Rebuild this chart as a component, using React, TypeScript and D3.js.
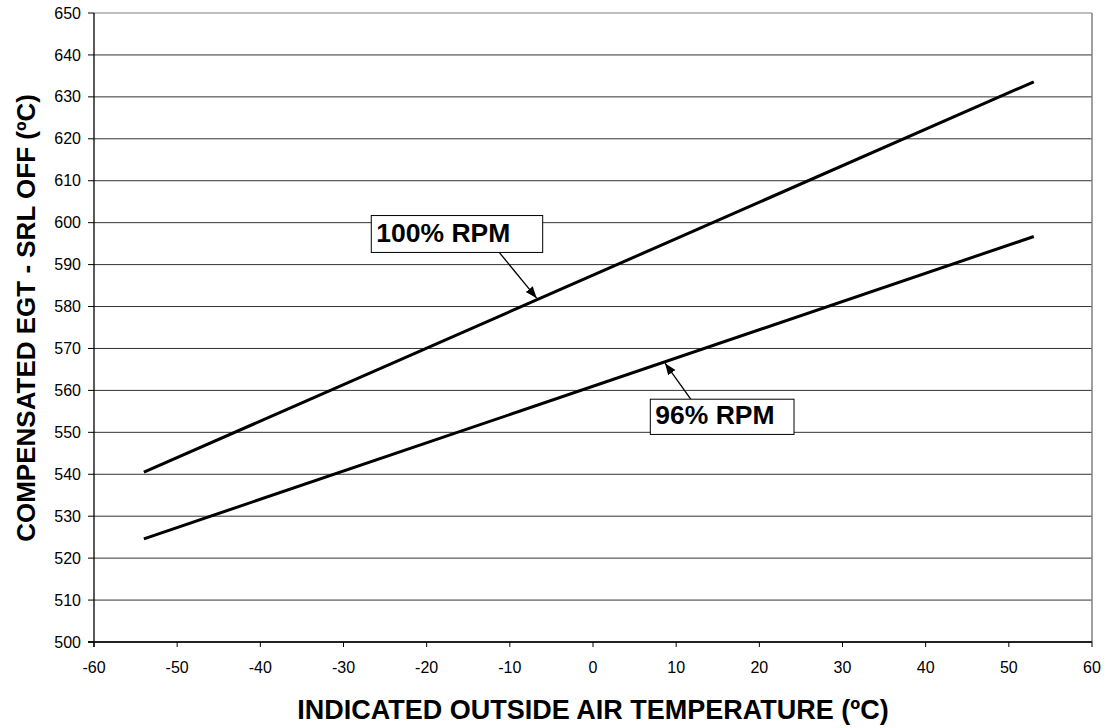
import React from "react";
import * as d3 from "d3";

const temps = [-54, 53];
const rpm100 = [540.5, 633.6];
const rpm96 = [524.6, 596.7];
const xTicks = d3.range(-60, 61, 10);
const yTicks = d3.range(500, 651, 10);

const labels = [
  { text: "100% RPM", box: [-26.66, 601.7, -6.05, 592.9], from: [-11.27, 592.9], to: [-6.77, 582.0] },
  { text: "96% RPM", box: [6.89, 557.9, 24.17, 549.5], from: [11.75, 557.9], to: [8.66, 566.5] },
];

const width = 1105;
const height = 728;
const margin = { top: 13, right: 13, bottom: 86, left: 94 };
const font = "'Liberation Sans', Arial, sans-serif";

export default function App() {
  const x = d3.scaleLinear().domain([-60, 60]).range([margin.left, width - margin.right]);
  const y = d3.scaleLinear().domain([500, 650]).range([height - margin.bottom, margin.top]);
  const line = d3
    .line<[number, number]>()
    .x((d) => x(d[0]))
    .y((d) => y(d[1]));

  const series = [rpm100, rpm96].map((vals) => temps.map((t, i) => [t, vals[i]] as [number, number]));

  const x0 = x(-60), x1 = x(60), y0 = y(500), y1 = y(650);

  return (
    <svg
      width={width}
      height={height}
      style={{ position: "absolute", left: 0, top: 0, background: "#fff" }}
      fontFamily={font}
    >
      <defs>
        <marker id="arr" viewBox="0 0 10 10" refX="10" refY="5" markerWidth="9" markerHeight="9" orient="auto">
          <path d="M0,1.2 L10,5 L0,8.8 z" fill="#000" />
        </marker>
      </defs>

      {/* grid */}
      {yTicks.map((t) => (
        <line key={"g" + t} x1={x0} x2={x1} y1={y(t)} y2={y(t)} stroke={t === 650 ? "#808080" : "#333"} strokeWidth={1} />
      ))}
      <line x1={x1} x2={x1} y1={y1} y2={y0} stroke="#808080" strokeWidth={1.5} />

      {/* axes */}
      <line x1={x0} x2={x0} y1={y1} y2={y0 + 5} stroke="#000" strokeWidth={1.3} />
      <line x1={x0 - 6} x2={x1} y1={y0} y2={y0} stroke="#222" strokeWidth={2} />
      {yTicks.map((t) => (
        <g key={"y" + t}>
          <line x1={x0 - 6} x2={x0} y1={y(t)} y2={y(t)} stroke="#000" />
          <text x={x0 - 13} y={y(t)} dy="0.35em" textAnchor="end" fontSize={16} fill="#000">
            {t}
          </text>
        </g>
      ))}
      {xTicks.map((t) => (
        <g key={"x" + t}>
          <line x1={x(t)} x2={x(t)} y1={y0} y2={y0 + 5} stroke="#000" />
          <text x={x(t)} y={y0 + 31} textAnchor="middle" fontSize={16} fill="#000">
            {t}
          </text>
        </g>
      ))}

      {/* series */}
      {series.map((s, i) => (
        <path key={"s" + i} d={line(s) || ""} fill="none" stroke="#000" strokeWidth={3} />
      ))}

      {/* callouts */}
      {labels.map((l) => (
        <g key={l.text}>
          <line
            x1={x(l.from[0])}
            y1={y(l.from[1])}
            x2={x(l.to[0])}
            y2={y(l.to[1])}
            stroke="#000"
            strokeWidth={1.3}
            markerEnd="url(#arr)"
          />
          <rect
            x={x(l.box[0])}
            y={y(l.box[1])}
            width={x(l.box[2]) - x(l.box[0])}
            height={y(l.box[3]) - y(l.box[1])}
            fill="#fff"
            stroke="#000"
            strokeWidth={1}
          />
          <text x={x(l.box[0]) + 5} y={y(l.box[3]) - 10} fontSize={26.5} fontWeight="bold" fill="#000">
            {l.text}
          </text>
        </g>
      ))}

      {/* titles */}
      <text x={(x0 + x1) / 2} y={719} textAnchor="middle" fontSize={27} fontWeight="bold" fill="#000">
        INDICATED OUTSIDE AIR TEMPERATURE (ºC)
      </text>
      <text
        transform={`translate(35, 318) rotate(-90)`}
        textAnchor="middle"
        fontSize={26}
        fontWeight="bold"
        fill="#000"
      >
        COMPENSATED EGT - SRL OFF (ºC)
      </text>
    </svg>
  );
}
